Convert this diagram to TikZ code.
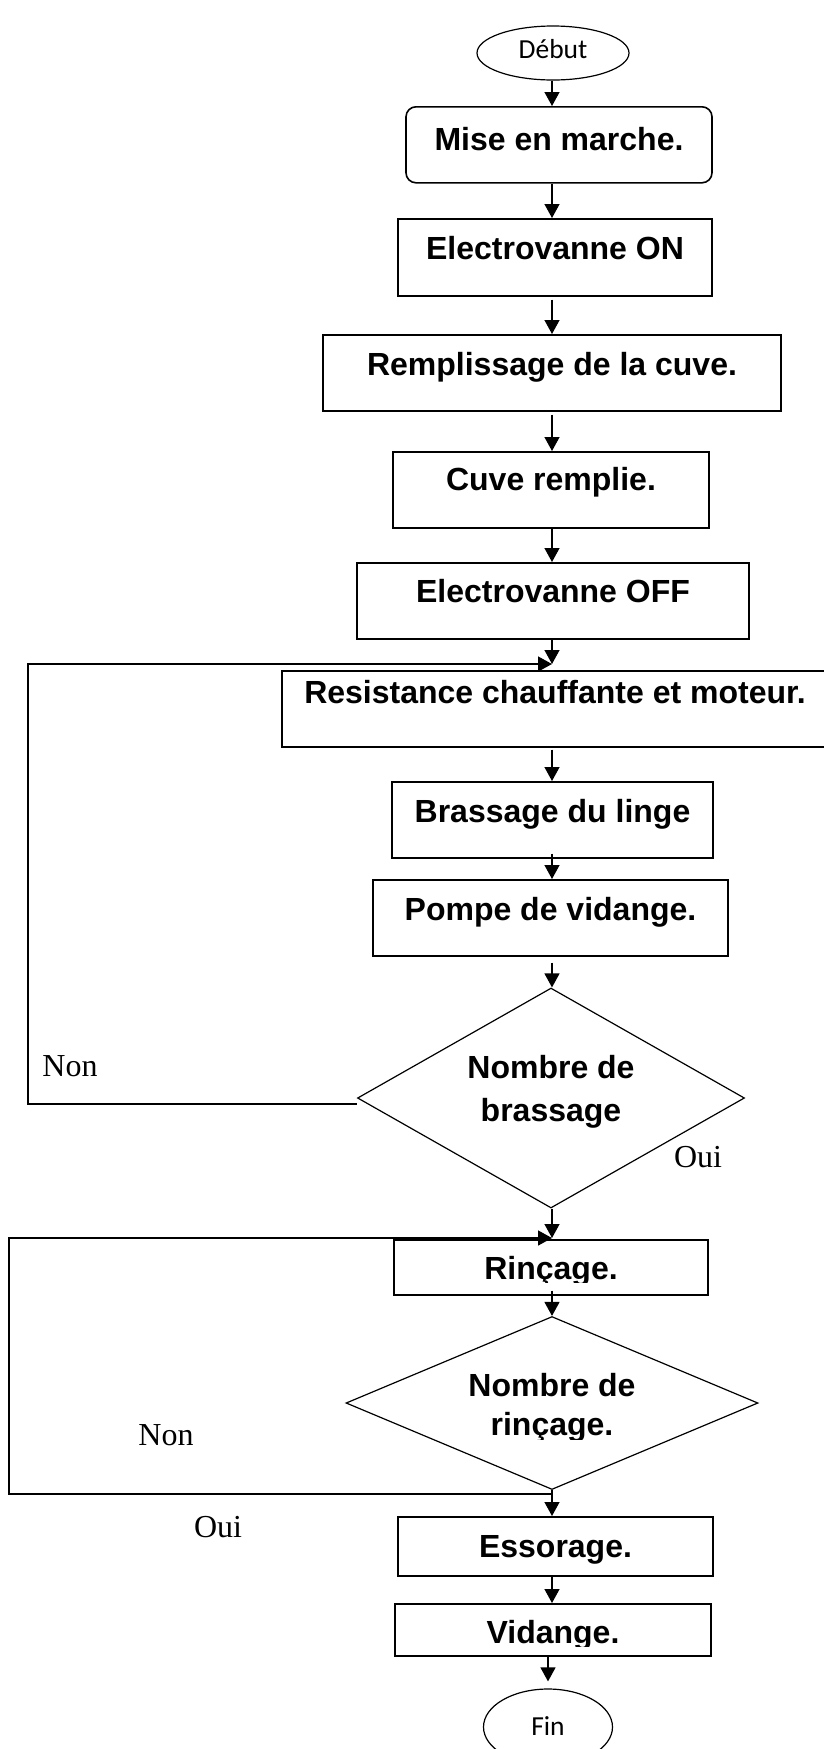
\documentclass[tikz,border=0pt]{standalone}
\usepackage{fontspec}
\setmainfont{Liberation Serif}
\newfontfamily\arialfont{Liberation Sans}
\newfontfamily\calibrifont{Carlito}
\usetikzlibrary{shapes.geometric,arrows.meta}

\begin{document}
\begin{tikzpicture}[x=1pt, y=-1pt,
  stepbox/.style={draw, line width=1.6pt, inner sep=0pt, anchor=north,
    font=\arialfont\bfseries\fontsize{32}{38}\selectfont},
  btext/.style={inner sep=0pt, font=\arialfont\bfseries\fontsize{32}{38}\selectfont},
  decision/.style={draw, diamond, line width=1.2pt, inner sep=0pt},
  terminal/.style={draw, ellipse, line width=1.2pt, inner sep=0pt,
    font=\calibrifont\fontsize{27.5}{32}\selectfont},
  answer/.style={inner sep=0pt, anchor=base, font=\rmfamily\fontsize{32}{36}\selectfont},
  flow/.style={line width=1.3pt, -{Triangle[length=14pt,width=15pt]}},
  loopline/.style={line width=1.5pt, -{Triangle[length=14pt,width=15pt]}},
]
\useasboundingbox (0,0) rectangle (824,1749);
\clip (0,0) rectangle (824,1749);

% main vertical axis of the flow
\coordinate (axis) at (552,0);

% start
\node[terminal, minimum width=152pt, minimum height=54pt, text height=15pt, text depth=5pt]
  (deb) at (553,53) {Début};

% process steps
\node[stepbox, rounded corners=10pt, minimum width=306pt, text height=44pt, text depth=32pt]
  (mise) at (559,106) {Mise en marche.};
\node[stepbox, minimum width=314pt, text height=41pt, text depth=36pt]
  (evon) at (555,218) {Electrovanne ON};
\node[stepbox, minimum width=458pt, text height=41pt, text depth=35pt]
  (rempl) at (552,334) {Remplissage de la cuve.};
\node[stepbox, minimum width=316pt, text height=39pt, text depth=37pt]
  (cuve) at (551,451) {Cuve remplie.};
\node[stepbox, minimum width=392pt, text height=40pt, text depth=36pt]
  (evoff) at (553,562) {Electrovanne OFF};
\node[stepbox, minimum width=546pt, text height=33pt, text depth=43pt]
  (resist) at (555,670) {Resistance chauffante et moteur.};
\node[stepbox, minimum width=321pt, text height=41pt, text depth=35pt]
  (brass) at (552.5,781) {Brassage du linge};
\node[stepbox, minimum width=355pt, text height=41pt, text depth=35pt]
  (pompe) at (550.5,879) {Pompe de vidange.};

% first decision
\node[decision, minimum width=387pt, minimum height=220pt] (d1) at (551,1098) {};
\node[btext, anchor=base, font=\arialfont\bfseries\fontsize{32}{43}\selectfont]
  (d1-t) at (551,1078) {\begin{tabular}[t]{@{}c@{}}Nombre de\\brassage\end{tabular}};

% rinsing
\node[stepbox, minimum width=314pt, minimum height=55pt] (rinc) at (551,1239) {};
\begin{scope}
  \clip (396,1243) rectangle (706,1282);
  \node[btext, anchor=base] (rinc-t) at (551,1279) {Rinçage.};
\end{scope}

% second decision
\node[decision, minimum width=412pt, minimum height=173pt] (d2) at (552,1403) {};
\begin{scope}
  \clip (350,1330) rectangle (755,1439);
  \node[btext, anchor=base, font=\arialfont\bfseries\fontsize{32}{39}\selectfont]
    (d2-t) at (552,1396) {\begin{tabular}[t]{@{}c@{}}Nombre de\\rinçage.\end{tabular}};
\end{scope}

% final steps
\node[stepbox, minimum width=315pt, text height=41pt, text depth=18pt]
  (esso) at (555.5,1516) {Essorage.};
\node[stepbox, minimum width=316pt, minimum height=52pt] (vid) at (553,1603) {};
\begin{scope}
  \clip (397,1607) rectangle (709,1646);
  \node[btext, anchor=base] (vid-t) at (553,1643) {Vidange.};
\end{scope}

% end
\node[terminal, minimum width=129pt, minimum height=76pt, text height=20pt, text depth=4pt]
  (fin) at (548,1727) {Fin};

% answers
\node[answer] (non1) at (70,1076) {Non};
\node[answer] (oui1) at (698,1167) {Oui};
\node[answer] (non2) at (166,1445) {Non};
\node[answer] (oui2) at (218,1537) {Oui};

% loop junctions
\coordinate (j1) at (552,664);
\coordinate (l1) at (28,664);
\coordinate (j2) at (552,1238);
\coordinate (l2) at (9,1238);

% connectors
\draw[flow] (deb.south -| axis) -- (mise.north -| axis);
\draw[flow] (mise.south -| axis) -- (evon.north -| axis);
\draw[flow, shorten <=3pt] (evon.south -| axis) -- (rempl.north -| axis);
\draw[flow, shorten <=3pt] (rempl.south -| axis) -- (cuve.north -| axis);
\draw[flow] (cuve.south -| axis) -- (evoff.north -| axis);
\draw[flow] (evoff.south -| axis) -- (j1);
\draw[loopline] ([yshift=-6pt]d1.west) -| (l1) -- (j1);
\draw[flow, shorten <=2pt] (resist.south -| axis) -- (brass.north -| axis);
\draw[flow, shorten <=-5pt] (brass.south -| axis) -- (pompe.north -| axis);
\draw[flow, shorten <=6pt] (pompe.south -| axis) -- (d1.north -| axis);
\draw[flow, shorten >=1pt] (d1.south -| axis) -- (rinc.north -| axis);
\draw[loopline] ([yshift=-4pt]d2.south) -| (l2) -- (j2);
\draw[flow, shorten <=-5pt] (rinc.south -| axis) -- (d2.north);
\draw[flow] (d2.south) -- (esso.north -| axis);
\draw[flow] (esso.south -| axis) -- (vid.north -| axis);
\draw[flow, shorten >=7pt] (vid.south -| fin) -- (fin.north);
\end{tikzpicture}
\end{document}
